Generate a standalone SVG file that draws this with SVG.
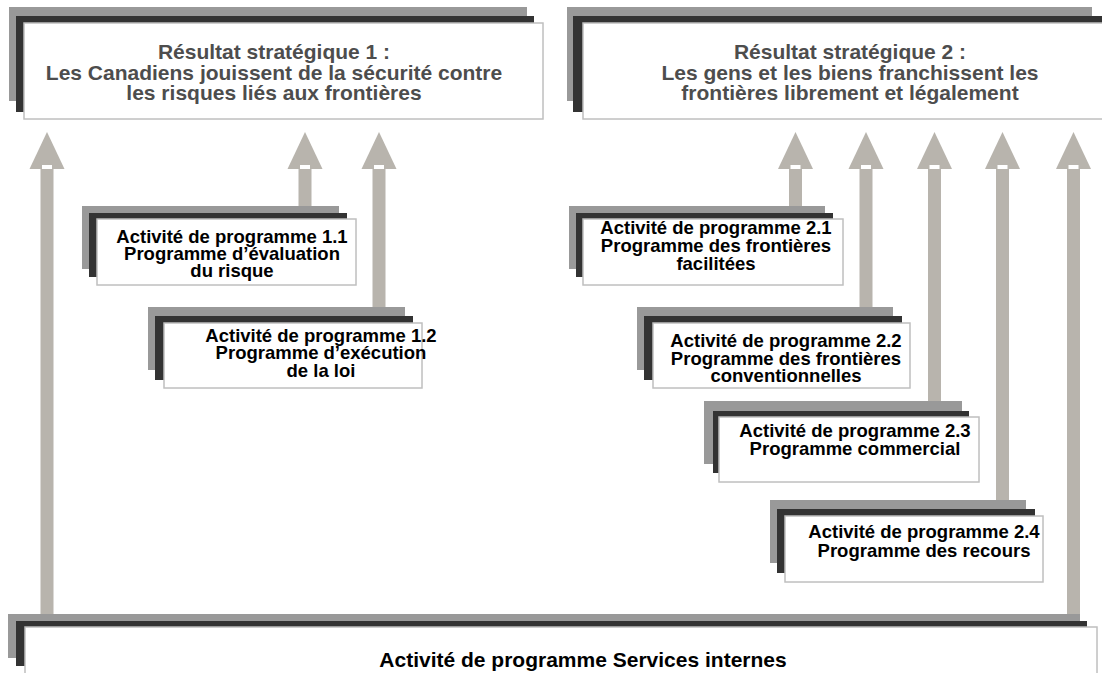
<svg xmlns="http://www.w3.org/2000/svg" width="1102" height="673" viewBox="0 0 1102 673">
<defs>
<style>
.g{fill:#999999}
.d{fill:#333333}
.w{fill:#ffffff;stroke:#bfbfbf;stroke-width:1.5}
.shaft{fill:#b8b4ad}
.head{fill:#b8b4ad}
.cap{fill:#ffffff}
.t1{font-family:"Liberation Sans",Arial,sans-serif;font-weight:bold;font-size:21px;fill:#4d4d4d;text-anchor:middle}
.t2{font-family:"Liberation Sans",Arial,sans-serif;font-weight:bold;font-size:18.5px;fill:#000000;text-anchor:middle}
.t3{font-family:"Liberation Sans",Arial,sans-serif;font-weight:bold;font-size:21px;fill:#000000;text-anchor:middle}
</style>
</defs>
<rect width="1102" height="673" fill="#ffffff"/>

<g id="connectors">
  <rect class="shaft" x="40.5" y="166" width="13" height="448"/>
  <polygon class="head" points="47,132 29.5,169 64.5,169"/>
  <rect class="cap" x="42" y="165" width="10" height="4"/>

  <rect class="shaft" x="298.5" y="166" width="13" height="40"/>
  <polygon class="head" points="305,132 287.5,169 322.5,169"/>
  <rect class="cap" x="300" y="165" width="10" height="4"/>

  <rect class="shaft" x="372.5" y="166" width="13" height="141"/>
  <polygon class="head" points="379,132 361.5,169 396.5,169"/>
  <rect class="cap" x="374" y="165" width="10" height="4"/>

  <rect class="shaft" x="789" y="166" width="13" height="40"/>
  <polygon class="head" points="795.5,132 778,169 813,169"/>
  <rect class="cap" x="790.5" y="165" width="10" height="4"/>

  <rect class="shaft" x="859.5" y="166" width="13" height="141"/>
  <polygon class="head" points="866,132 848.5,169 883.5,169"/>
  <rect class="cap" x="861" y="165" width="10" height="4"/>

  <rect class="shaft" x="928" y="166" width="13" height="235"/>
  <polygon class="head" points="934.5,132 917,169 952,169"/>
  <rect class="cap" x="929.5" y="165" width="10" height="4"/>

  <rect class="shaft" x="996" y="166" width="13" height="334"/>
  <polygon class="head" points="1002.5,132 985,169 1020,169"/>
  <rect class="cap" x="997.5" y="165" width="10" height="4"/>

  <rect class="shaft" x="1067" y="166" width="13" height="448"/>
  <polygon class="head" points="1073.5,132 1056,169 1091,169"/>
  <rect class="cap" x="1068.5" y="165" width="10" height="4"/>
</g>

<g id="outcome1">
  <rect class="g" x="9" y="7" width="518" height="94"/>
  <rect class="d" x="16" y="16" width="518" height="96"/>
  <rect class="w" x="24" y="23" width="519" height="96"/>
  <text class="t1" x="274" y="59">Résultat stratégique 1 :</text>
  <text class="t1" x="274" y="80">Les Canadiens jouissent de la sécurité contre</text>
  <text class="t1" x="274" y="100">les risques liés aux frontières</text>
</g>

<g id="outcome2">
  <rect class="g" x="567" y="7" width="525" height="94"/>
  <rect class="d" x="573" y="16" width="540" height="96"/>
  <rect class="w" x="583" y="23" width="530" height="96"/>
  <text class="t1" x="850" y="59">Résultat stratégique 2 :</text>
  <text class="t1" x="850" y="80">Les gens et les biens franchissent les</text>
  <text class="t1" x="850" y="100">frontières librement et légalement</text>
</g>

<g id="pa11">
  <rect class="g" x="82" y="206" width="257" height="63"/>
  <rect class="d" x="89" y="213" width="258" height="64"/>
  <rect class="w" x="97" y="219" width="259" height="66"/>
  <text class="t2" x="232" y="243">Activité de programme 1.1</text>
  <text class="t2" x="232" y="260">Programme d’évaluation</text>
  <text class="t2" x="232" y="277">du risque</text>
</g>

<g id="pa12">
  <rect class="g" x="148" y="307" width="257" height="63"/>
  <rect class="d" x="155" y="316" width="258" height="64"/>
  <rect class="w" x="164" y="323" width="258" height="65"/>
  <text class="t2" x="321" y="342">Activité de programme 1.2</text>
  <text class="t2" x="321" y="359">Programme d’exécution</text>
  <text class="t2" x="321" y="377">de la loi</text>
</g>

<g id="pa21">
  <rect class="g" x="569" y="206" width="256" height="63"/>
  <rect class="d" x="576" y="213" width="257" height="64"/>
  <rect class="w" x="583" y="219" width="260" height="66"/>
  <text class="t2" x="716" y="234">Activité de programme 2.1</text>
  <text class="t2" x="716" y="252">Programme des frontières</text>
  <text class="t2" x="716" y="270">facilitées</text>
</g>

<g id="pa22">
  <rect class="g" x="637" y="307" width="256" height="63"/>
  <rect class="d" x="644" y="316" width="258" height="64"/>
  <rect class="w" x="653" y="323" width="257" height="65"/>
  <text class="t2" x="786" y="347">Activité de programme 2.2</text>
  <text class="t2" x="786" y="365">Programme des frontières</text>
  <text class="t2" x="786" y="382">conventionnelles</text>
</g>

<g id="pa23">
  <rect class="g" x="704" y="401" width="258" height="63"/>
  <rect class="d" x="713" y="411" width="256" height="62"/>
  <rect class="w" x="719" y="417" width="260" height="65"/>
  <text class="t2" x="855" y="437">Activité de programme 2.3</text>
  <text class="t2" x="855" y="455">Programme commercial</text>
</g>

<g id="pa24">
  <rect class="g" x="770" y="500" width="256" height="63"/>
  <rect class="d" x="777" y="509" width="258" height="64"/>
  <rect class="w" x="785" y="516" width="258" height="66"/>
  <text class="t2" x="924" y="538">Activité de programme 2.4</text>
  <text class="t2" x="924" y="557">Programme des recours</text>
</g>

<g id="services">
  <rect class="g" x="8" y="614" width="1072" height="44"/>
  <rect class="d" x="16" y="621" width="1071" height="45"/>
  <rect class="w" x="25" y="627" width="1072" height="60"/>
  <text class="t3" x="583" y="667">Activité de programme Services internes</text>
</g>
</svg>
